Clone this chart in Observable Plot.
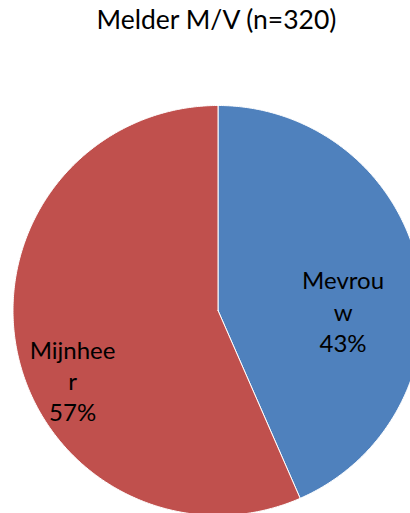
<!DOCTYPE html>
<html>
<head>
<meta charset="utf-8">
<script src="https://cdn.jsdelivr.net/npm/d3@7"></script>
<script src="https://cdn.jsdelivr.net/npm/@observablehq/plot@0.6"></script>
<style>
  html, body { margin: 0; padding: 0; background: #fff; overflow: hidden; }
  #title { height: 60px; box-sizing: border-box; padding-top: 4px; padding-left: 23px; width: 410px;
           text-align: center; font: 26.5px/30px Lato, sans-serif; color: #000; white-space: nowrap; }
  #chart svg { display: block; }
</style>
</head>
<body>
<div id="title">Melder M/V (n=320)</div>
<div id="chart"></div>
<script>
// ---- data ----
const categories = ["Mevrouw", "Mijnheer"];
const counts = [139, 181];
const wrappedNames = ["Mevrou\nw", "Mijnhee\nr"];
const percentLabels = ["43%", "57%"];
const colors = ["#4F81BD", "#C0504D"];

// ---- layout helpers (not data) ----
const labelPlacement = [ {da: 11.8, r: 0.61}, {da: -13.7, r: 0.786} ]; // degrees offset from mid-angle, radius fraction

const arcs = d3.pie().sort(null).value(d => d)(counts);

const slicePoints = [];
arcs.forEach((a, i) => {
  const cat = categories[i];
  slicePoints.push({cat, x: 0, y: 0});
  const n = Math.max(2, Math.ceil((a.endAngle - a.startAngle) / (Math.PI / 360)));
  for (let k = 0; k <= n; k++) {
    const t = a.startAngle + (a.endAngle - a.startAngle) * k / n;
    slicePoints.push({cat, x: Math.sin(t), y: Math.cos(t)});
  }
  slicePoints.push({cat, x: 0, y: 0});
});

const labels = arcs.map((a, i) => {
  const mid = (a.startAngle + a.endAngle) / 2 + labelPlacement[i].da * Math.PI / 180;
  const r = labelPlacement[i].r;
  return {cat: categories[i], x: r * Math.sin(mid), y: r * Math.cos(mid),
          text: wrappedNames[i] + "\n" + percentLabels[i]};
});

const cx = 217.5, cy = 250, R = 205;

const chart = Plot.plot({
  width: 410,
  height: 453,
  margin: 0,
  style: {background: "white", overflow: "hidden"},
  x: {domain: [-1, 1], range: [cx - R, cx + R], axis: null},
  y: {domain: [-1, 1], range: [cy + R, cy - R], axis: null},
  color: {domain: categories, range: colors},
  marks: [
    Plot.line(slicePoints, {x: "x", y: "y", z: "cat", fill: "cat", stroke: "white", strokeWidth: 1, strokeLinejoin: "round"}),
    Plot.text(labels, {x: "x", y: "y", text: "text", fontSize: 24, lineHeight: 1.31, fontFamily: "Lato", fill: "black"})
  ]
});
document.getElementById("chart").appendChild(chart);
</script>
</body>
</html>
